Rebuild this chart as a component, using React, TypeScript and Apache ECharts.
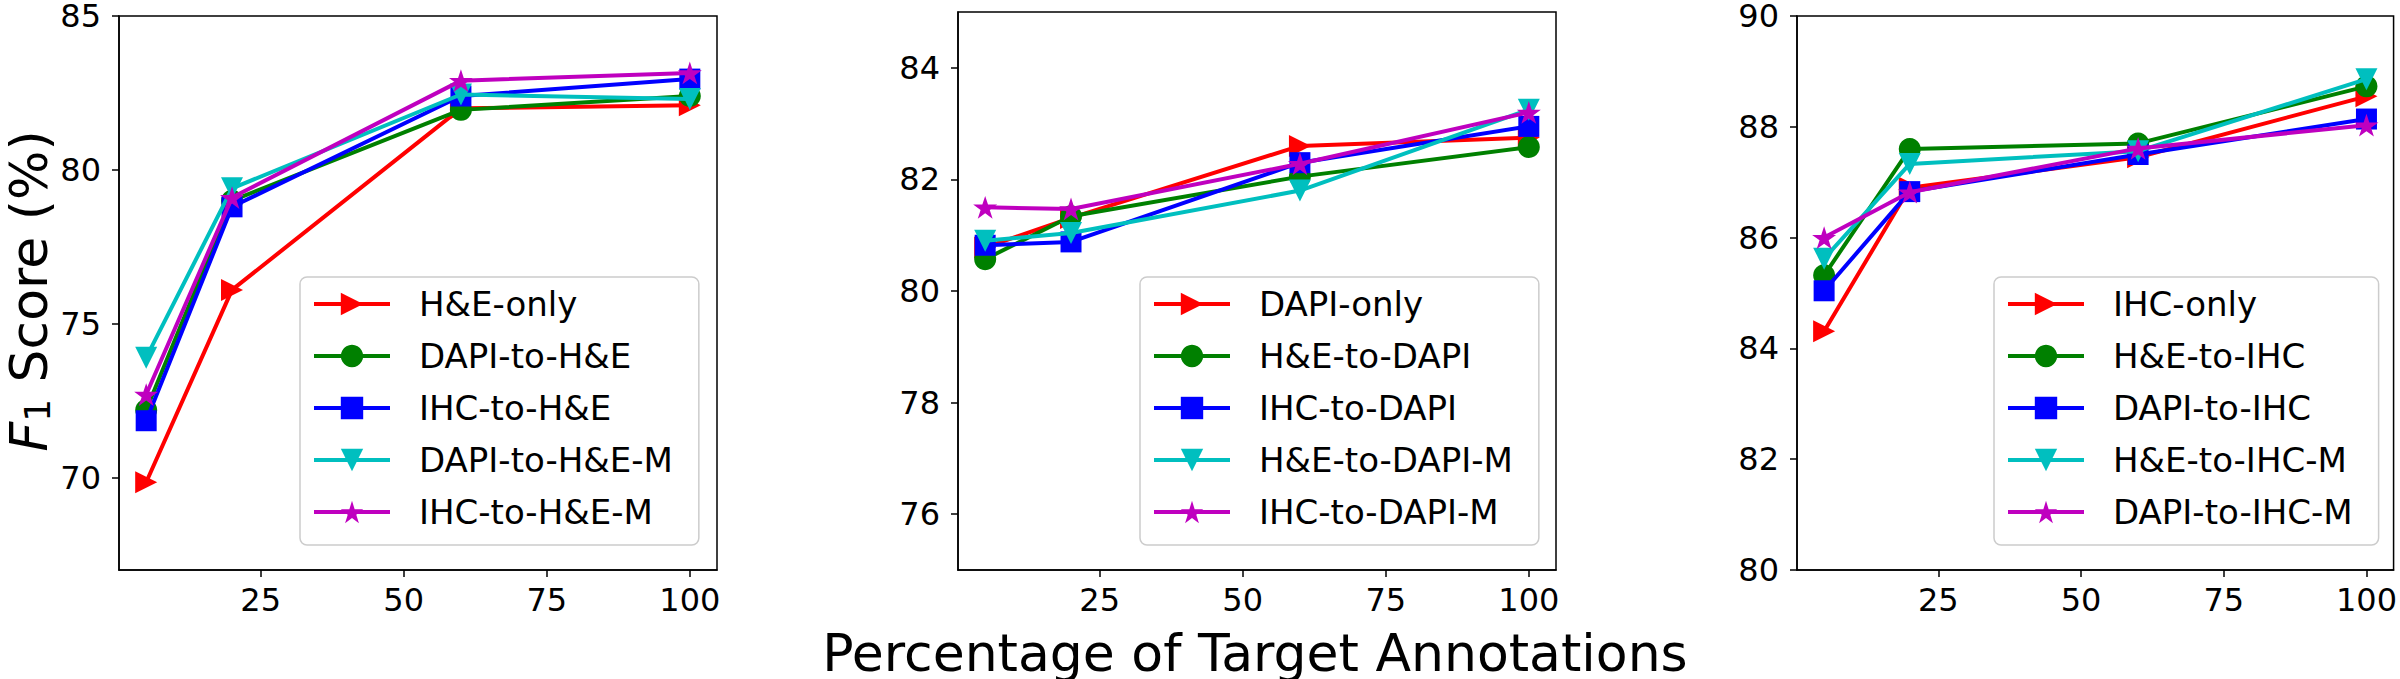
import React, { useEffect, useRef } from 'react';
import * as echarts from 'echarts';

// ---- data ----
const xValues = [5, 20, 60, 100];
const xTicks = [25, 50, 75, 100];

const names1 = ['H&E-only', 'DAPI-to-H&E', 'IHC-to-H&E', 'DAPI-to-H&E-M', 'IHC-to-H&E-M'];
const heOnly = [69.85, 76.1, 82.0, 82.1];
const dapiToHe = [72.2, 79.0, 81.95, 82.4];
const ihcToHe = [71.85, 78.8, 82.4, 82.95];
const dapiToHeM = [73.9, 79.4, 82.45, 82.3];
const ihcToHeM = [72.7, 79.1, 82.9, 83.15];
const yTicks1 = [70, 75, 80, 85];

const names2 = ['DAPI-only', 'H&E-to-DAPI', 'IHC-to-DAPI', 'H&E-to-DAPI-M', 'IHC-to-DAPI-M'];
const dapiOnly = [80.78, 81.31, 82.6, 82.75];
const heToDapi = [80.57, 81.34, 82.05, 82.58];
const ihcToDapi = [80.82, 80.88, 82.3, 82.95];
const heToDapiM = [80.9, 81.04, 81.8, 83.25];
const ihcToDapiM = [81.5, 81.47, 82.28, 83.2];
const yTicks2 = [76, 78, 80, 82, 84];

const names3 = ['IHC-only', 'H&E-to-IHC', 'DAPI-to-IHC', 'H&E-to-IHC-M', 'DAPI-to-IHC-M'];
const ihcOnly = [84.31, 86.9, 87.45, 88.55];
const heToIhc = [85.32, 87.6, 87.7, 88.73];
const dapiToIhc = [85.04, 86.83, 87.5, 88.14];
const heToIhcM = [85.62, 87.33, 87.56, 88.86];
const dapiToIhcM = [86.0, 86.82, 87.61, 88.03];
const yTicks3 = [80, 82, 84, 86, 88, 90];

const xLabel = 'Percentage of Target Annotations';

// ---- style ----
const FONT = 'DejaVu Sans';
const colors = ['#ff0000', '#008000', '#0000ff', '#00bfbf', '#bf00bf'];
const starPath =
  'path://M0,-1L0.2245,-0.309L0.951,-0.309L0.363,0.118L0.588,0.809L0,0.382L-0.588,0.809L-0.363,0.118L-0.951,-0.309L-0.2245,-0.309Z';
const symbols = ['triangle', 'circle', 'rect', 'triangle', starPath];
const rotates = [-90, 0, 0, 180, 0];
const symbolSizes = [22, 22, 21, 22, 24];

const panels = [
  { names: names1, series: [heOnly, dapiToHe, ihcToHe, dapiToHeM, ihcToHeM], yMin: 67, yMax: 85, yTicks: yTicks1, left: 119, legendLeft: 300 },
  { names: names2, series: [dapiOnly, heToDapi, ihcToDapi, heToDapiM, ihcToDapiM], yMin: 75, yMax: 85, yTicks: yTicks2, left: 958, legendLeft: 1140 },
  { names: names3, series: [ihcOnly, heToIhc, dapiToIhc, heToIhcM, dapiToIhcM], yMin: 80, yMax: 90, yTicks: yTicks3, left: 1797, legendLeft: 1994 },
];

const GRID_TOP = 12;
const GRID_H = 558;
const GRID_W = 598;

export default function App() {
  const ref = useRef<HTMLDivElement>(null);
  useEffect(() => {
    document.body.style.margin = '0';
    if (!ref.current) return;
    const chart = echarts.init(ref.current, undefined, { renderer: 'svg' });

    const grid = panels.map((p) => ({
      left: p.left,
      top: GRID_TOP,
      width: GRID_W,
      height: GRID_H,
      show: true,
      borderColor: '#000',
      borderWidth: 1.5,
      backgroundColor: 'transparent',
      containLabel: false,
    }));

    const xAxis = panels.map((p, i) => ({
      type: 'value',
      gridIndex: i,
      min: 0.25,
      max: 104.75,
      splitLine: { show: false },
      axisLine: { show: true, onZero: false, lineStyle: { color: '#000', width: 1.5 } },
      axisTick: { show: true, length: 7, lineStyle: { color: '#000', width: 1.5 }, customValues: xTicks },
      axisLabel: { fontFamily: FONT, fontSize: 32, color: '#000', margin: 14, customValues: xTicks },
    }));

    const yAxis = panels.map((p, i) => ({
      type: 'value',
      gridIndex: i,
      min: p.yMin,
      max: p.yMax,
      splitLine: { show: false },
      axisLine: { show: true, onZero: false, lineStyle: { color: '#000', width: 1.5 } },
      axisTick: { show: true, length: 7, lineStyle: { color: '#000', width: 1.5 }, customValues: p.yTicks },
      axisLabel: { fontFamily: FONT, fontSize: 32, lineHeight: 24, color: '#000', margin: 18, customValues: p.yTicks },
    }));

    const series: any[] = [];
    panels.forEach((p, pi) => {
      p.series.forEach((vals, si) => {
        series.push({
          type: 'line',
          name: p.names[si],
          xAxisIndex: pi,
          yAxisIndex: pi,
          data: xValues.map((x, j) => [x, vals[j]]),
          symbol: symbols[si],
          symbolRotate: rotates[si],
          symbolSize: symbolSizes[si],
          symbolKeepAspect: true,
          showAllSymbol: true,
          clip: false,
          lineStyle: { color: colors[si], width: 4 },
          itemStyle: { color: colors[si], borderWidth: 0 },
          z: 2 + si,
        });
      });
    });

    const legend = panels.map((p) => ({
      orient: 'vertical',
      left: p.legendLeft,
      top: 277,
      data: p.names,
      itemWidth: 76,
      itemHeight: 28,
      itemGap: 18,
      padding: [10, 26, 16, 12],
      backgroundColor: 'rgba(255,255,255,0.8)',
      borderColor: '#cccccc',
      borderWidth: 1.5,
      borderRadius: 7,
      selectedMode: false,
      lineStyle: { width: 4 },
      textStyle: { fontFamily: FONT, fontSize: 34, color: '#000', lineHeight: 34, padding: [0, 0, 0, 24] },
    }));

    chart.setOption({
      animation: false,
      backgroundColor: '#ffffff',
      grid,
      xAxis,
      yAxis,
      legend,
      series,
      graphic: [
        {
          type: 'text',
          x: 1255,
          y: 653,
          style: {
            text: xLabel,
            fontFamily: FONT,
            fontSize: 52,
            lineHeight: 50,
            fill: '#000',
            textAlign: 'center',
            textVerticalAlign: 'middle',
          },
        },
        {
          type: 'text',
          x: 29,
          y: 291,
          rotation: Math.PI / 2,
          style: {
            text: '{i|F}{s|1}{n| Score (%)}',
            textAlign: 'center',
            textVerticalAlign: 'middle',
            fill: '#000',
            rich: {
              i: { fontFamily: FONT, fontStyle: 'italic', fontSize: 52, lineHeight: 52, fill: '#000' },
              s: { fontFamily: FONT, fontSize: 36, lineHeight: 40, verticalAlign: 'bottom', fill: '#000' },
              n: { fontFamily: FONT, fontSize: 52, lineHeight: 52, fill: '#000' },
            },
          },
        },
      ],
    });
    return () => chart.dispose();
  }, []);
  return <div ref={ref} style={{ width: 2400, height: 679 }} />;
}
